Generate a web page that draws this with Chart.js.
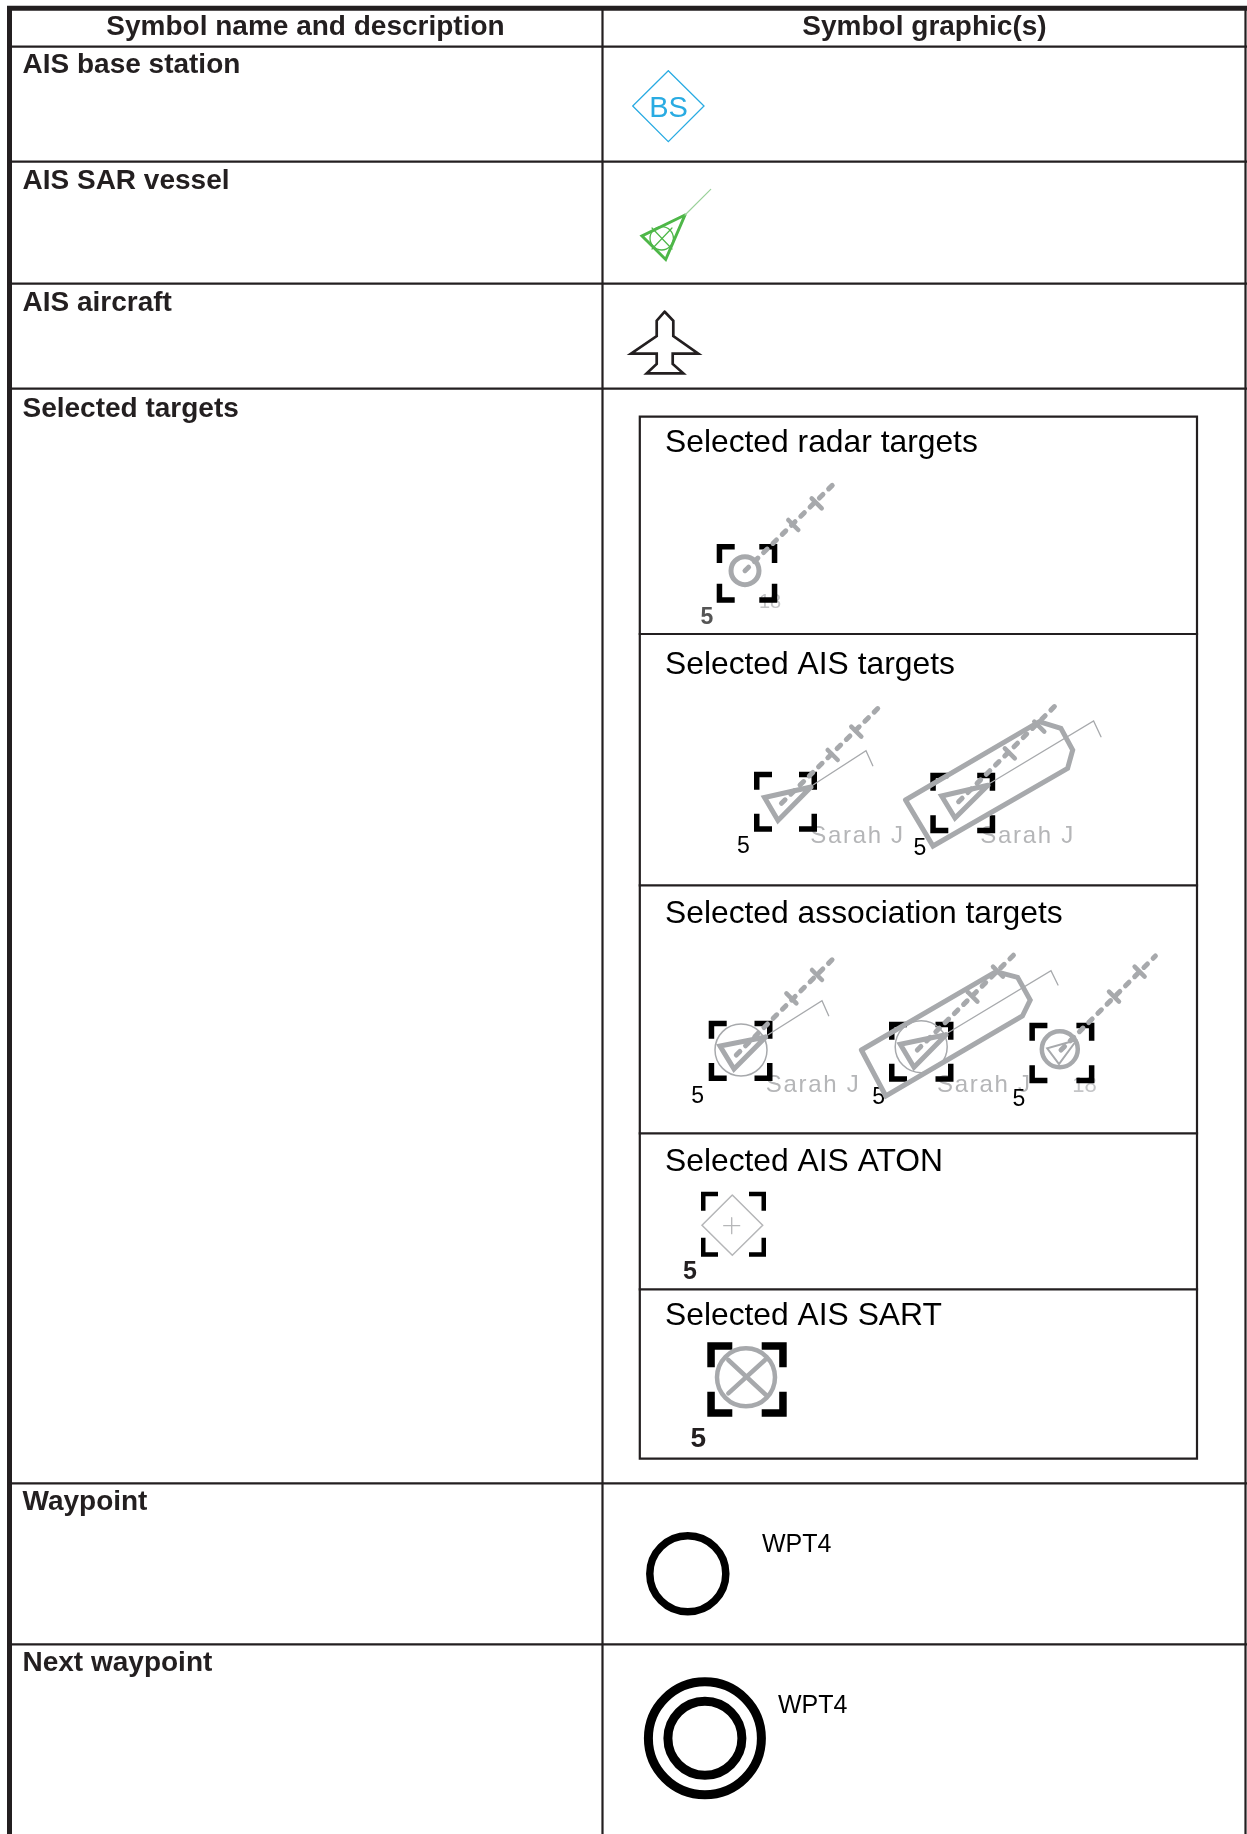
<!DOCTYPE html>
<html><head><meta charset="utf-8">
<style>html,body{margin:0;padding:0;background:#fff;overflow:hidden}canvas{display:block}</style>
<script src="https://cdn.jsdelivr.net/npm/chart.js@4"></script>
</head><body><canvas id="c" width="1247" height="1834"></canvas>
<script>
// ---- table contents ----
const columnTitles = ["Symbol name and description", "Symbol graphic(s)"];
const rowNames = ["AIS base station", "AIS SAR vessel", "AIS aircraft", "Selected targets", "Waypoint", "Next waypoint"];
const panelNames = ["Selected radar targets", "Selected AIS targets", "Selected association targets", "Selected AIS ATON", "Selected AIS SART"];
const vesselName = "Sarah J";

// ---- read-off geometry, in reference coordinates ----
const tableRules = [[[8,46.7],[1247,46.7]],[[8,161.7],[1247,161.7]],[[8,283.7],[1247,283.7]],[[8,388.7],[1247,388.7]],[[8,1483.3],[1247,1483.3]],[[8,1644.3],[1247,1644.3]],[[602.5,8],[602.5,1834]],[[1245.5,8],[1245.5,1834]]];
const tableFrame = [[[9.5,1834],[9.5,8.3],[1247,8.3]]];
const panelRules = [[[639.8,416.7],[1197,416.7],[1197,1458.7],[639.8,1458.7],[639.8,416.7]],[[639.8,634],[1197,634]],[[639.8,885.3],[1197,885.3]],[[639.8,1133.3],[1197,1133.3]],[[639.8,1289.3],[1197,1289.3]]];

const baseStationDiamond = [[668.3,70.7],[704,106],[668.3,141.7],[632.7,106],[668.3,70.7]];
const sarTriangle = [[685,215],[642,236],[665.7,259.5],[685,215]];
const sarCourse = [[685,215],[710.7,189.3]];
const sarCross = [[[652,228],[672,249]],[[672,228],[652,249]]];
const aircraftOutline = [[664.7,311.7],[673.3,320.7],[673.3,336],[698.3,353.7],[672.7,353.7],[672.7,364],[683.3,373.3],[646.7,373.3],[656.7,364],[656.7,353.7],[631,353.7],[656.7,336],[656.7,320.7],[664.7,311.7]];

// bracket sets: left, top, right, bottom (outer edges)
const radarBrackets = [716.7,544,777.3,602.7];
const aisBrackets = [[754,771.7,817,831.7],[930.3,772.7,995.2,833.3]];
const assocBrackets = [[708.7,1020.7,772.5,1081],[889,1021.7,953.5,1081.7],[1029.4,1022.7,1094.4,1083.3]];
const atonBrackets = [701,1191.7,766,1256.7];
const sartBrackets = [707.3,1342.3,786.7,1416.7];

// course vectors: start, end; tick centres
const courseVectors = [
  [[745,570.7],[835,482.7]],[[781.5,803.3],[878,708.3]],[[958.6,801.7],[1055,706]],
  [[736.3,1055],[834.6,957.3]],[[917.3,1050],[1013.7,955]],[[1061,1050],[1155.4,956]]];
const courseTicks = [
  [[788.3,520],[798.3,530]],[[811.7,498.3],[821.7,508.3]],
  [[827.7,750],[837.7,760]],[[851.3,726.7],[861.3,736.7]],
  [[1004.8,748.3],[1014.8,758.3]],[[1034.3,721.7],[1044.3,731.7]],
  [[786.4,993.3],[796.4,1003.3]],[[812,970],[822,980]],
  [[967.4,991.7],[977.4,1001.7]],[[993,966.7],[1003,976.7]],
  [[1109,991.7],[1119,1001.7]],[[1134.6,966.7],[1144.6,976.7]]];
const targetTriangles = [
  [[811,787],[764.5,797.5],[778,820.5],[811,787]],
  [[988,785.3],[941.6,796],[955,818],[988,785.3]],
  [[765.7,1037],[720,1046],[734,1069],[765.7,1037]],
  [[946,1034.7],[900.3,1044.3],[914,1067.3],[946,1034.7]]];
const innerTriangle = [[1076.7,1040],[1047.2,1048.3],[1059,1064],[1076.7,1040]];
const headingLines = [
  [[813,785],[866,750.7],[872.8,765.7]],
  [[990,783.3],[1093.6,721],[1101,736.7]],
  [[767.7,1035],[822,1000.7],[828.7,1015.7]],
  [[948,1032.7],[1051,970.7],[1058,985]]];
const shipOutlines = [
  [[905.5,800],[933,846],[1067.6,768.3],[1072.7,750],[1060.9,728.3],[1039.3,721.7],[905.5,800]],
  [[861.4,1050],[885.8,1096],[1022.4,1016],[1030.2,1000],[1017.6,977.3],[996,971.7],[861.4,1050]]];
const atonDiamond = [[732.3,1195],[762.7,1225.3],[732.3,1255.3],[702,1225.3],[732.3,1195]];
const atonPlus = [[[723.7,1225.7],[739.7,1225.7]],[[731.7,1217.7],[731.7,1233.7]]];
const sartCross = [[[728.3,1360],[766,1395]],[[765,1360],[728.3,1393.3]]];
const waypointHalo = [[636.4,1524.3],[845,1524.3],[845,1625],[636.4,1625],[636.4,1524.3]];
const nextWaypointHalo = [[636.4,1686.7],[843,1686.7],[843,1819],[636.4,1819],[636.4,1686.7]];

// circles: x, y, radius, line width, colour key
const circleMarks = [
  [661.7,238.3,11.7,1.3,"green"],[745,570.7,14,5,"grey"],
  [741,1050,26,1.5,"grey"],[921.2,1046.7,26,1.5,"grey"],[1059.8,1049.3,18,4.5,"grey"],
  [746,1377.3,29,4.5,"grey"],[687.8,1573.7,38,7.5,"black"],[704.9,1738.3,56.5,9,"black"],[704.9,1738.3,37,9,"black"]];

// labels: text, x, y
const fiveLabels = [[743.3,853.3],[920,855],[697.7,1103.3],[878.7,1104],[1018.8,1106]];
const nameLabels = [[810.2,842.7],[980.3,842.7],[765.8,1091.7],[937,1091.7]];
const speedGhosts = [[770,608,20],[1084.6,1091.7,22]];
const waypointLabels = [[762,1551.7],[778,1713]];

const colors = {black:"#000",ink:"#231f20",grey:"#a7a9ac",green:"#4eb748",paleGreen:"#9ad19a",blue:"#29abe2",soft:"#b5b6b8"};
const sans = '"Liberation Sans", Arial, sans-serif';

const datasets = [];
const pts = a => a.map(([x,y]) => ({x,y}));
function line(a, color, width, extra) {
  datasets.push(Object.assign({type:"scatter", data:pts(a), showLine:true, pointRadius:0, borderColor:color, borderWidth:width, backgroundColor:"transparent", fill:false, tension:0, clip:false, borderCapStyle:"round", borderJoinStyle:"miter"}, extra||{}));
}
function brackets([L,T,R,B], armX, armY, width) {
  const h = width/2, l = L+h, t = T+h, r = R-h, b = B-h, ax = armX-h, ay = armY-h;
  [[[l,t+ay],[l,t],[l+ax,t]],[[r-ax,t],[r,t],[r,t+ay]],[[l,b-ay],[l,b],[l+ax,b]],[[r-ax,b],[r,b],[r,b-ay]]]
    .forEach(p => line(p, colors.black, width, {borderCapStyle:"butt"}));
}

line(waypointHalo, "#fcfcfc", 0, {fill:true, backgroundColor:"#fcfcfc"});
line(nextWaypointHalo, "#fcfcfc", 0, {fill:true, backgroundColor:"#fcfcfc"});
tableRules.forEach(p => line(p, colors.ink, 2.2, {borderCapStyle:"butt"}));
tableFrame.forEach(p => line(p, colors.ink, 5, {borderCapStyle:"butt"}));
panelRules.forEach(p => line(p, colors.ink, 2.2, {borderCapStyle:"square"}));

line(baseStationDiamond, colors.blue, 1.3);
line(sarCourse, colors.paleGreen, 1.2);
line(sarTriangle, colors.green, 3);
sarCross.forEach(p => line(p, colors.green, 1.2));
line(aircraftOutline, colors.ink, 2.7);

shipOutlines.forEach(p => line(p, colors.grey, 5));
headingLines.forEach(p => line(p, colors.grey, 1.3));
courseVectors.forEach(p => line(p, colors.grey, 5, {borderDash:[5,8]}));
courseTicks.forEach(p => line(p, colors.grey, 4.5));
targetTriangles.forEach(p => line(p, colors.grey, 5));
line(innerTriangle, colors.grey, 2);
line(atonDiamond, "#b5b6b8", 1.5);
atonPlus.forEach(p => line(p, "#b5b6b8", 1.3));
sartCross.forEach(p => line(p, colors.grey, 4.5));

circleMarks.forEach(([x,y,r,w,c]) => datasets.push({type:"scatter", data:[{x,y}], pointRadius:r, pointBorderWidth:w, pointBorderColor:colors[c], pointBackgroundColor:"transparent", pointStyle:"circle", clip:false, showLine:false}));

brackets(radarBrackets, 18, 19, 5.5);
aisBrackets.forEach(b => brackets(b, 18, 18, 5.5));
assocBrackets.forEach(b => brackets(b, 18, 18, 5.5));
brackets(atonBrackets, 17, 19, 4.5);
brackets(sartBrackets, 25, 25, 7.5);

const textPlugin = {
  id:"tableText",
  beforeDatasetsDraw(chart) {
    const {ctx, scales:{x:sx, y:sy}} = chart;
    const put = (s, x, y, font, color, align, spacing) => {
      ctx.save();
      ctx.font = font; ctx.fillStyle = color; ctx.textAlign = align||"left"; ctx.textBaseline = "alphabetic";
      ctx.letterSpacing = (spacing||0) + "px";
      ctx.fillText(s, sx.getPixelForValue(x), sy.getPixelForValue(y));
      ctx.restore();
    };
    const head = "bold 28px " + sans, row = "bold 28px " + sans, panel = "31.8px " + sans;
    put(columnTitles[0], 305.5, 35.3, head, colors.ink, "center");
    put(columnTitles[1], 924.5, 35.3, head, colors.ink, "center");
    [73,188.5,311,416.5,1510,1671].forEach((y,i) => put(rowNames[i], 22.5, y, row, colors.ink));
    [452,674.3,922.7,1170.5,1325].forEach((y,i) => put(panelNames[i], 665, y, panel, colors.black));
    put("BS", 668.5, 116.5, "29px " + sans, colors.blue, "center");
    nameLabels.forEach(([x,y]) => put(vesselName, x, y, "24px " + sans, colors.soft, "left", 1.7));
    speedGhosts.forEach(([x,y,s]) => put("18", x, y, s + "px " + sans, "#c4c5c7", "center"));
    put("5", 707, 624, "bold 23px " + sans, "#555", "center");
    fiveLabels.forEach(([x,y]) => put("5", x, y, "23px " + sans, colors.black, "center"));
    put("5", 690, 1279, "bold 25px " + sans, colors.ink, "center");
    put("5", 698.3, 1447, "bold 28px " + sans, colors.ink, "center");
    waypointLabels.forEach(([x,y]) => put("WPT4", x, y, "25px " + sans, colors.black));
  }
};

new Chart(document.getElementById("c"), {
  type:"scatter",
  data:{datasets},
  options:{
    responsive:false, animation:false, devicePixelRatio:1,
    layout:{padding:0, autoPadding:false},
    plugins:{legend:{display:false}, tooltip:{enabled:false}},
    events:[],
    scales:{
      x:{type:"linear", min:0, max:1247, display:false},
      y:{type:"linear", min:0, max:1834, reverse:true, display:false}
    }
  },
  plugins:[textPlugin]
});
</script></body></html>
